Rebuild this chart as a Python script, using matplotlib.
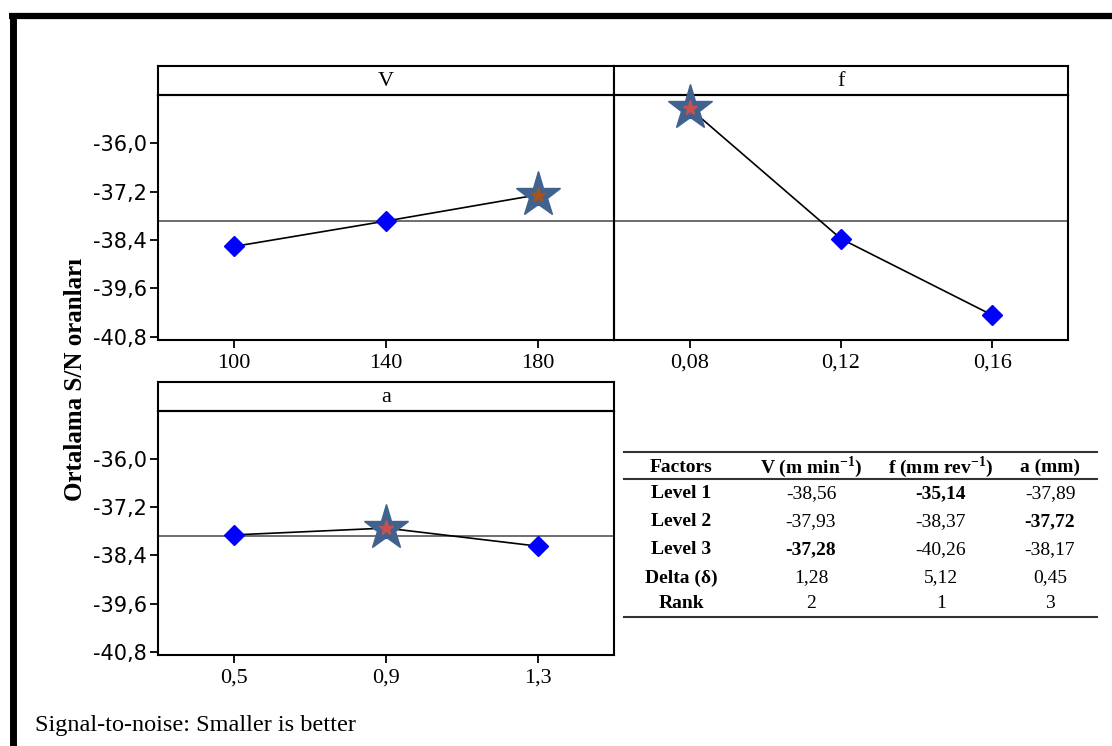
import matplotlib
matplotlib.use("Agg")
import matplotlib.pyplot as plt
from matplotlib.lines import Line2D
import numpy as np

# ---------------- data ----------------
factor_names = ["V", "f", "a"]
V_levels = ["100", "140", "180"]
f_levels = ["0,08", "0,12", "0,16"]
a_levels = ["0,5", "0,9", "1,3"]
V_sn = [-38.56, -37.93, -37.28]
f_sn = [-35.14, -38.37, -40.26]
a_sn = [-37.89, -37.72, -38.17]
y_ticks = [-36.0, -37.2, -38.4, -39.6, -40.8]

table_header = ["Factors", "V (m min$^{\\mathbf{-1}}$)", "f (mm rev$^{\\mathbf{-1}}$)", "a (mm)"]
table_rows = ["Level 1", "Level 2", "Level 3", "Delta (\u03b4)", "Rank"]
table_V = ["-38,56", "-37,93", "-37,28", "1,28", "2"]
table_f = ["-35,14", "-38,37", "-40,26", "5,12", "1"]
table_a = ["-37,89", "-37,72", "-38,17", "0,45", "3"]
table_bold = [(0, 2), (1, 3), (2, 1)]  # (row, col) bold cells

footnote = "Signal-to-noise: Smaller is better"
y_label = "Ortalama S/N oranlar\u0131"

# ---------------- style ----------------
plt.rcParams["mathtext.fontset"] = "custom"
plt.rcParams["mathtext.rm"] = "Liberation Serif"
plt.rcParams["mathtext.bf"] = "Liberation Serif:bold"
SERIF = "Liberation Serif"
W, H = 1112, 746
fig = plt.figure(figsize=(W / 100, H / 100), dpi=100)

def fx(px):
    return px / W

def fy(py):
    return 1 - py / H

grand_mean = np.mean(V_sn + f_sn + a_sn)
ylim = (-40.875, -34.81)

panels = [
    (158, 614, 95, 340, 66, V_levels, V_sn, True, "#A4541E"),
    (614, 1068, 95, 340, 66, f_levels, f_sn, False, "#C8504D"),
    (158, 614, 411, 655, 382, a_levels, a_sn, True, "#C8504D"),
]

# strips first so that markers can overlap them
for name, (x0, x1, y0, y1, ys, levels, vals, show_y, inner) in zip(factor_names, panels):
    sax = fig.add_axes([fx(x0), fy(y0), fx(x1 - x0), (y0 - ys) / H])
    sax.set_xticks([])
    sax.set_yticks([])
    for sp in sax.spines.values():
        sp.set_linewidth(1.5)
    sax.text(0.5, 0.45, name, ha="center", va="center", fontfamily=SERIF, fontsize=16,
             transform=sax.transAxes)

for name, (x0, x1, y0, y1, ys, levels, vals, show_y, inner) in zip(factor_names, panels):
    ax = fig.add_axes([fx(x0), fy(y1), fx(x1 - x0), (y1 - y0) / H])
    ax.patch.set_alpha(0)
    xs = np.arange(1, len(levels) + 1)
    ax.axhline(grand_mean, color="#555555", lw=1.2, zorder=1)
    ax.plot(xs, vals, color="black", lw=1.2, zorder=2)
    ax.plot(xs, vals, ls="none", marker="D", ms=10, color="#0000FF", mec="#0000FF", zorder=3)
    ib = int(np.argmax(vals))
    ax.plot(xs[ib], vals[ib], ls="none", marker="*", ms=34, color="#41628F", mec="#41628F",
            zorder=4, clip_on=False)
    ax.plot(xs[ib], vals[ib], ls="none", marker="*", ms=11, color=inner, mec=inner,
            zorder=5, clip_on=False)
    ax.set_xlim(0.5, len(levels) + 0.5)
    ax.set_ylim(*ylim)
    ax.set_xticks(xs)
    ax.set_xticklabels(levels, fontfamily=SERIF, fontsize=16)
    ax.tick_params(axis="x", length=6, width=1.3, pad=4)
    if show_y:
        ax.set_yticks(y_ticks)
        ax.set_yticklabels([f"{t:.1f}".replace(".", ",") for t in y_ticks],
                           fontfamily="DejaVu Sans", fontsize=15)
        ax.tick_params(axis="y", length=6, width=1.3, pad=2)
    else:
        ax.set_yticks([])
    for sp in ax.spines.values():
        sp.set_linewidth(1.5)

# y label
fig.text(fx(75), fy(379), y_label, rotation=90, ha="center", va="center",
         fontfamily=SERIF, fontweight="bold", fontsize=18)

# footnote
fig.text(fx(35), fy(725), footnote, ha="left", va="center", fontfamily=SERIF, fontsize=17.5)

# table
tx0, tx1 = 624, 1097
for yy in (452, 479, 617):
    fig.add_artist(Line2D([fx(tx0), fx(tx1)], [fy(yy), fy(yy)], color="#333333", lw=1.5))
col_x = [681, 811, 941, 1050]
row_y = [494, 522, 550, 578, 604]
for c, htxt in zip(col_x, table_header):
    fig.text(fx(c), fy(467), htxt, ha="center", va="center", fontfamily=SERIF,
             fontweight="bold", fontsize=14)
cols = [table_rows, table_V, table_f, table_a]
for ci, (c, col) in enumerate(zip(col_x, cols)):
    for ri, (r, txt) in enumerate(zip(row_y, col)):
        bold = ci == 0 or (ri, ci) in table_bold
        fig.text(fx(c), fy(r), txt, ha="center", va="center", fontfamily=SERIF,
                 fontweight="bold" if bold else "normal", fontsize=14)

# thick outer frame (left and top)
fig.add_artist(Line2D([fx(12.5), fx(12.5)], [fy(13), fy(746)], color="black", lw=5, solid_capstyle="butt"))
fig.add_artist(Line2D([fx(9), fx(1112)], [fy(16), fy(16)], color="black", lw=4.5, solid_capstyle="butt"))

fig.savefig("out.png", dpi=100)
